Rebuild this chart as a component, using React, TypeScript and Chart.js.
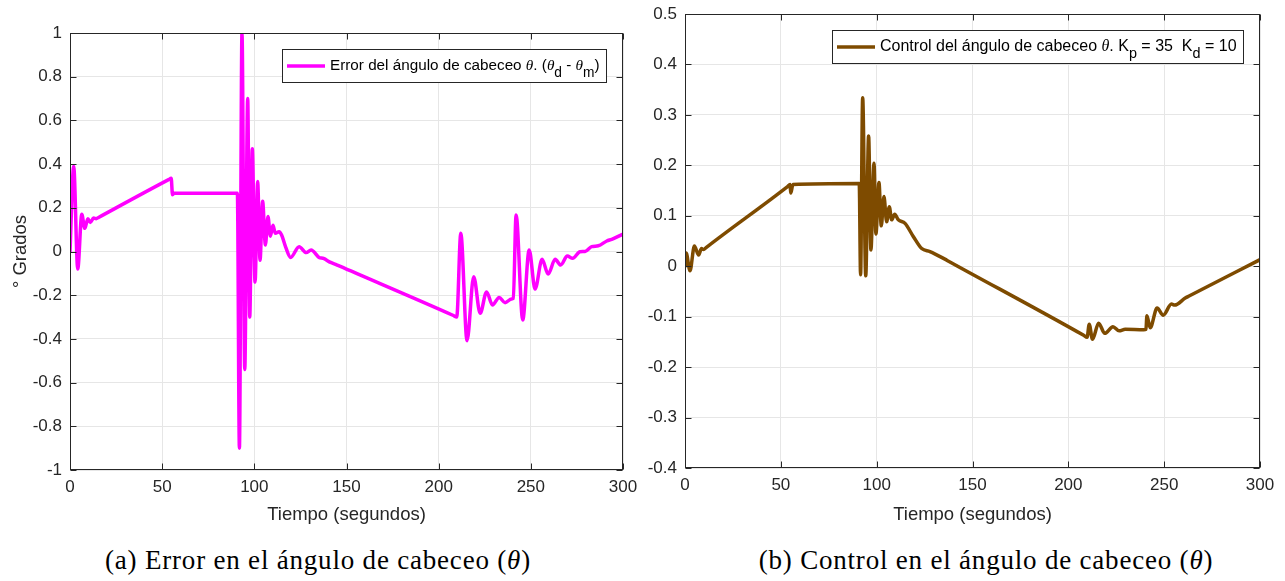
import React, { useEffect, useRef } from "react";
import { Chart, registerables } from "chart.js";

Chart.register(...registerables);

// ---------- DATA ----------
const xTickValues = [0, 50, 100, 150, 200, 250, 300];

const errorYTicks = [-1, -0.8, -0.6, -0.4, -0.2, 0, 0.2, 0.4, 0.6, 0.8, 1];
const controlYTicks = [-0.4, -0.3, -0.2, -0.1, 0, 0.1, 0.2, 0.3, 0.4, 0.5];

// Error del ángulo de cabeceo (grados) vs tiempo (s)
const errorTime = [
  0, 2, 4.2, 6.4, 8, 9.7, 11, 12.8, 14.2, 15.5, 53.5, 54.9, 55.6, 56.5, 90.8,
  91.9, 93.3, 94.8, 96.4, 97.5, 98.9, 100.4, 101.8, 103.1, 104.5, 106.0, 107.4,
  108.7, 110.1, 111.4, 113.4, 114.8, 117, 119.7, 124.3, 128.1, 130.8, 135.1,
  137.5, 141.4, 144.1, 146, 208, 209.8, 212, 215.4, 219, 222.5, 226, 229.2,
  232.8, 236, 239.6, 240.5, 242, 245.6, 249.1, 252.3, 256.1, 259.4, 263.2,
  266.2, 269.8, 272.7, 276.7, 279.4, 283, 286.6, 291.2, 293.9, 300,
];
const errorValues = [
  0, 0.39, -0.08, 0.17, 0.106, 0.15, 0.133, 0.153, 0.15, 0.156, 0.329, 0.335,
  0.26, 0.267, 0.267, -0.9, 1.0, -0.54, 0.7, -0.3, 0.47, -0.14, 0.32, -0.04,
  0.23, 0.03, 0.16, 0.07, 0.12, 0.083, 0.09, 0.075, 0.02, -0.027, 0.022,
  -0.005, 0.007, -0.027, -0.032, -0.05, -0.059, -0.066, -0.293, -0.3, 0.083,
  -0.408, -0.115, -0.283, -0.185, -0.245, -0.21, -0.234, -0.217, -0.215,
  0.167, -0.313, 0.007, -0.172, -0.036, -0.103, -0.036, -0.062, -0.021,
  -0.031, -0.001, 0, 0.022, 0.026, 0.048, 0.056, 0.08,
];

// Control del ángulo de cabeceo vs tiempo (s)
const controlTime = [
  0, 0.6, 2.6, 4.9, 7.1, 8.6, 9.7, 11, 53.5, 54.8, 55.2, 56.3, 90.9, 91.6, 92.7,
  94.3, 95.8, 97, 98.6, 99.6, 101.2, 102.4, 103.8, 105.2, 106.6, 107.8, 109.4,
  111.3, 114.8, 119.1, 123.5, 127.8, 135.6, 137.5, 208, 209.8, 210.9, 212.6,
  215.8, 219, 223.3, 226.5, 229.7, 239.4, 240.5, 241, 242.7, 246.3, 249.5,
  253.8, 255.5, 261, 263, 300,
];
const controlValues = [
  0, 0.026, -0.009, 0.04, 0.022, 0.035, 0.033, 0.037, 0.158, 0.162, 0.145,
  0.162, 0.164, -0.017, 0.334, -0.019, 0.258, 0.032, 0.204, 0.064, 0.166, 0.08,
  0.138, 0.088, 0.118, 0.092, 0.103, 0.092, 0.085, 0.059, 0.035, 0.029, 0.014,
  0.01, -0.137, -0.141, -0.115, -0.145, -0.113, -0.133, -0.12, -0.128, -0.125,
  -0.126, -0.125, -0.098, -0.122, -0.083, -0.097, -0.075, -0.077, -0.063,
  -0.059, 0.013,
];

type Seg = { text: string; kind: "n" | "th" | "sub" };

const errorLegend: Seg[] = [
  { text: "Error del ángulo de cabeceo ", kind: "n" },
  { text: "θ", kind: "th" },
  { text: ". (", kind: "n" },
  { text: "θ", kind: "th" },
  { text: "d", kind: "sub" },
  { text: " - ", kind: "n" },
  { text: "θ", kind: "th" },
  { text: "m", kind: "sub" },
  { text: ")", kind: "n" },
];

const controlLegend: Seg[] = [
  { text: "Control del ángulo de cabeceo ", kind: "n" },
  { text: "θ", kind: "th" },
  { text: ". K", kind: "n" },
  { text: "p", kind: "sub" },
  { text: " = 35  K", kind: "n" },
  { text: "d", kind: "sub" },
  { text: " = 10", kind: "n" },
];

const SANS = '"Liberation Sans", Arial, Helvetica, sans-serif';
const AXIS_DARK = "#262626";
const LINE_W = 3.5;

// ---------- PLUGINS ----------
const framePlugin = {
  id: "matlabFrame",
  afterDatasetsDraw(chart: any) {
    const { ctx, chartArea } = chart;
    const l = Math.round(chartArea.left) + 0.5;
    const r = Math.round(chartArea.right) - 0.5;
    const t = Math.round(chartArea.top) + 0.5;
    const b = Math.round(chartArea.bottom) - 0.5;
    ctx.save();
    ctx.strokeStyle = AXIS_DARK;
    ctx.lineWidth = 1;
    ctx.strokeRect(l, t, r - l, b - t);
    const tl = 6;
    const xs = chart.scales.x;
    const ys = chart.scales.y;
    ctx.beginPath();
    xs.ticks.forEach((tk: any) => {
      const px = Math.round(xs.getPixelForValue(tk.value)) + 0.5;
      ctx.moveTo(px, b);
      ctx.lineTo(px, b - tl);
      ctx.moveTo(px, t);
      ctx.lineTo(px, t + tl);
    });
    ys.ticks.forEach((tk: any) => {
      const py = Math.round(ys.getPixelForValue(tk.value)) + 0.5;
      ctx.moveTo(l, py);
      ctx.lineTo(l + tl, py);
      ctx.moveTo(r, py);
      ctx.lineTo(r - tl, py);
    });
    ctx.stroke();
    ctx.restore();
  },
};

function makeLegendPlugin(segs: Seg[], color: string, fontSize: number) {
  return {
    id: "customLegend",
    afterDraw(chart: any) {
      const { ctx, chartArea } = chart;
      const fonts: Record<string, string> = {
        n: `${fontSize}px ${SANS}`,
        th: `italic ${fontSize}px "Liberation Serif", "Times New Roman", serif`,
        sub: `${fontSize * 0.9}px ${SANS}`,
      };
      ctx.save();
      let w = 0;
      segs.forEach((s) => {
        ctx.font = fonts[s.kind];
        w += ctx.measureText(s.text).width;
      });
      const padL = 5, lineLen = 38, gap = 5, padR = 6, h = 33;
      const boxW = Math.round(padL + lineLen + gap + w + padR);
      const x1 = Math.round(chartArea.right) - 17;
      const x0 = x1 - boxW;
      const y0 = Math.round(chartArea.top) + 16;
      ctx.fillStyle = "#ffffff";
      ctx.fillRect(x0, y0, boxW, h);
      ctx.strokeStyle = AXIS_DARK;
      ctx.lineWidth = 1;
      ctx.strokeRect(x0 + 0.5, y0 + 0.5, boxW, h);
      const cy = y0 + h / 2 + 0.5;
      ctx.strokeStyle = color;
      ctx.lineWidth = LINE_W;
      ctx.beginPath();
      ctx.moveTo(x0 + padL, cy);
      ctx.lineTo(x0 + padL + lineLen, cy);
      ctx.stroke();
      let x = x0 + padL + lineLen + gap;
      ctx.fillStyle = "#000000";
      ctx.textBaseline = "middle";
      ctx.textAlign = "left";
      segs.forEach((s) => {
        ctx.font = fonts[s.kind];
        ctx.fillText(s.text, x, s.kind === "sub" ? cy + 7 : cy);
        x += ctx.measureText(s.text).width;
      });
      ctx.restore();
    },
  };
}

function fmt(v: number) {
  const r = Math.round(v * 10) / 10;
  return r === 0 ? "0" : String(r);
}

type ChartProps = {
  left: number;
  width: number;
  height: number;
  padTop: number;
  padRight: number;
  yAxisWidth: number;
  xAxisHeight: number;
  times: number[];
  values: number[];
  color: string;
  yTicks: number[];
  yTitle?: string;
  legend: Seg[];
  legendFont: number;
};

function MatlabChart(p: ChartProps) {
  const ref = useRef<HTMLCanvasElement>(null);
  useEffect(() => {
    if (!ref.current) return;
    const tickFont = { family: SANS, size: 17 };
    const titleFont = { family: SANS, size: 18.5 };
    const chart = new Chart(ref.current, {
      type: "scatter",
      data: {
        datasets: [
          {
            data: p.times.map((t, i) => ({ x: t, y: p.values[i] })),
            showLine: true,
            borderColor: p.color,
            backgroundColor: p.color,
            borderWidth: LINE_W,
            pointRadius: 0,
            pointHoverRadius: 0,
            cubicInterpolationMode: "monotone",
            borderJoinStyle: "round",
            borderCapStyle: "round",
          } as any,
        ],
      },
      options: {
        responsive: false,
        animation: false,
        events: [],
        layout: { padding: { left: 0, right: p.padRight, top: p.padTop, bottom: 0 } },
        plugins: { legend: { display: false }, tooltip: { enabled: false } },
        scales: {
          x: {
            type: "linear",
            min: 0,
            max: 300,
            afterBuildTicks: (s: any) => {
              s.ticks = xTickValues.map((v) => ({ value: v }));
            },
            afterFit: (s: any) => {
              s.height = p.xAxisHeight;
              s.paddingLeft = 0;
              s.paddingRight = 0;
            },
            grid: { color: "#e6e6e6", lineWidth: 1, drawTicks: false },
            border: { display: false },
            ticks: {
              font: tickFont,
              color: AXIS_DARK,
              padding: 7,
              maxRotation: 0,
              autoSkip: false,
              callback: (v: any) => String(v),
            },
            title: {
              display: true,
              text: "Tiempo (segundos)",
              font: titleFont,
              color: AXIS_DARK,
              padding: { top: 0, bottom: 14 },
            },
          },
          y: {
            type: "linear",
            min: p.yTicks[0],
            max: p.yTicks[p.yTicks.length - 1],
            afterBuildTicks: (s: any) => {
              s.ticks = p.yTicks.map((v) => ({ value: v }));
            },
            afterFit: (s: any) => {
              s.width = p.yAxisWidth;
              s.paddingTop = 0;
              s.paddingBottom = 0;
            },
            grid: { color: "#e6e6e6", lineWidth: 1, drawTicks: false },
            border: { display: false },
            ticks: {
              font: tickFont,
              color: AXIS_DARK,
              padding: 8,
              autoSkip: false,
              callback: (v: any) => fmt(Number(v)),
            },
            title: {
              display: !!p.yTitle,
              text: p.yTitle || "",
              font: titleFont,
              color: AXIS_DARK,
              padding: { top: 10, bottom: 0 },
            },
          },
        },
      } as any,
      plugins: [framePlugin, makeLegendPlugin(p.legend, p.color, p.legendFont)],
    });
    return () => chart.destroy();
  }, []);
  return (
    <canvas
      ref={ref}
      width={p.width}
      height={p.height}
      style={{ position: "absolute", left: p.left, top: 0, width: p.width, height: p.height }}
    />
  );
}

const captionStyle: React.CSSProperties = {
  position: "absolute",
  top: 545,
  transform: "translateX(-50%)",
  whiteSpace: "nowrap",
  fontFamily: '"Liberation Serif", "Times New Roman", serif',
  fontSize: 27,
  letterSpacing: "0.8px",
  lineHeight: "31px",
  color: "#000",
};

export default function App() {
  return (
    <div style={{ position: "absolute", left: 0, top: 0, width: 1285, height: 581, background: "#fff", overflow: "hidden" }}>
      <MatlabChart
        left={0}
        width={640}
        height={540}
        padTop={33}
        padRight={17}
        yAxisWidth={70}
        xAxisHeight={70}
        times={errorTime}
        values={errorValues}
        color="#ff00ff"
        yTicks={errorYTicks}
        yTitle="° Grados"
        legend={errorLegend}
        legendFont={15.25}
      />
      <MatlabChart
        left={640}
        width={645}
        height={540}
        padTop={14}
        padRight={25}
        yAxisWidth={45}
        xAxisHeight={72}
        times={controlTime}
        values={controlValues}
        color="#7e4b00"
        yTicks={controlYTicks}
        legend={controlLegend}
        legendFont={16}
      />
      <div style={{ ...captionStyle, left: 318 }}>
        (a) Error en el ángulo de cabeceo (<i>θ</i>)
      </div>
      <div style={{ ...captionStyle, left: 986 }}>
        (b) Control en el ángulo de cabeceo (<i>θ</i>)
      </div>
    </div>
  );
}
